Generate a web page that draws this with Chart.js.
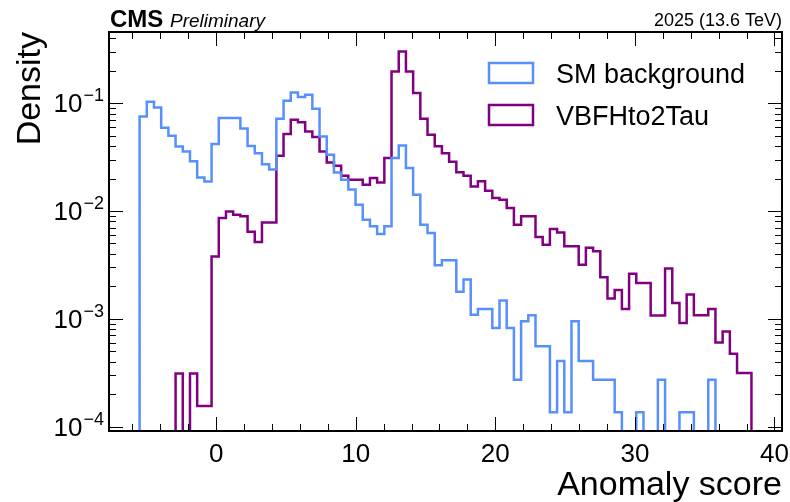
<!DOCTYPE html>
<html>
<head>
<meta charset="utf-8">
<script src="https://cdn.jsdelivr.net/npm/chart.js@4.4.1/dist/chart.umd.min.js"></script>
<style>
  html, body { margin: 0; padding: 0; background: #fff; }
  #wrap { width: 790px; height: 502px; }
</style>
</head>
<body>
<div id="wrap"><canvas id="anomalyChart" width="790" height="502"></canvas></div>
<script>
// 85 equal-width bins of the anomaly score
const binLow = -5.49;
const binWidth = 0.5158;
const nBins = 85;

const seriesNames = ["SM background", "VBFHto2Tau"];
const seriesColors = ["#5790fc", "#800080"];

// normalised bin contents (density)
const smBackground = [
  0.0754, 0.1033, 0.0914, 0.0593, 0.0499, 0.0397, 0.0357, 0.0289, 0.0205, 0.0188,
  0.0418, 0.0729, 0.0729, 0.0729, 0.0582, 0.0401, 0.0343, 0.0271, 0.0242, 0.0718,
  0.1055, 0.1259, 0.1141, 0.1199, 0.0889, 0.0492, 0.0333, 0.0228, 0.0195, 0.0158,
  0.01144, 0.0083, 0.0072, 0.00612, 0.0072, 0.0310, 0.0404, 0.0251, 0.01416, 0.00747,
  0.00625, 0.00314, 0.00350, 0.00350, 0.00178, 0.00231, 0.00109, 0.00123, 0.00123, 0.00082,
  0.00148, 0.00082, 0.000272, 0.00095, 0.00108, 0.000555, 0.000555, 0.000136, 0.000405, 0.000136,
  0.00095, 0.000405, 0.000405, 0.000272, 0.000272, 0.000272, 0.000136, 0, 0, 0.000136,
  0, 0, 0.000272, 0, 0, 0.000136, 0.000136, 0, 0, 0.000272,
  0, 0, 0, 0, 0
];
const vbfHiggs = [
  0, 0, 0, 0, 0, 0.00031, 0, 0.00031, 0.000155, 0.000155,
  0.00379, 0.00861, 0.00991, 0.00924, 0.00892, 0.00643, 0.00516, 0.00783, 0.00783, 0.0326,
  0.0518, 0.0703, 0.0664, 0.0547, 0.0486, 0.0357, 0.0282, 0.0263, 0.02126, 0.0195,
  0.0195, 0.01753, 0.02024, 0.01842, 0.0310, 0.197, 0.302, 0.197, 0.1243, 0.0718,
  0.0510, 0.0399, 0.0344, 0.0287, 0.0229, 0.02126, 0.0169, 0.0189, 0.01543, 0.0132,
  0.01273, 0.01066, 0.00747, 0.00892, 0.00892, 0.00574, 0.00487, 0.00681, 0.00633, 0.00470,
  0.00470, 0.00318, 0.00457, 0.00424, 0.00243, 0.00154, 0.00185, 0.00123, 0.00261, 0.00215,
  0.00215, 0.00107, 0.00107, 0.00292, 0.00140, 0.000914, 0.00168, 0.00108, 0.00108, 0.00123,
  0.000604, 0.000764, 0.000474, 0.000314, 0.000314
];

const xTicks = [0, 10, 20, 30, 40];
const xMinorStep = 2;
const yTickExp = [-4, -3, -2, -1];

const xRange = [-7.682, 40.542];
const yRange = [9.1e-5, 0.4575];

const FONT = "'Liberation Sans', Arial, sans-serif";

// bin edges, then step outline points; empty bins drop below the log axis
const edges = [];
for (let i = 0; i <= nBins; i++) edges.push(binLow + i * binWidth);

function stepPoints(values) {
  const floor = 1e-8;
  const pts = [{ x: edges[0], y: floor }];
  values.forEach((v, i) => pts.push({ x: edges[i], y: v > 0 ? v : floor }));
  const last = values[values.length - 1];
  pts.push({ x: edges[nBins], y: last > 0 ? last : floor });
  pts.push({ x: edges[nBins], y: floor });
  return pts;
}

function line(ctx, x1, y1, x2, y2) {
  ctx.beginPath();
  ctx.moveTo(x1, y1);
  ctx.lineTo(x2, y2);
  ctx.stroke();
}

// frame with inward ticks on all four sides
const framePlugin = {
  id: "frame",
  afterDatasetsDraw(chart) {
    const { ctx, chartArea: a, scales: { x, y } } = chart;
    ctx.save();
    ctx.strokeStyle = "#000";
    ctx.lineWidth = 1;
    const first = Math.ceil(x.min / xMinorStep) * xMinorStep;
    for (let v = first; v <= x.max; v += xMinorStep) {
      const px = Math.round(x.getPixelForValue(v)) + 0.5;
      const len = xTicks.includes(v) ? 14 : 7;
      line(ctx, px, a.bottom, px, a.bottom - len);
      line(ctx, px, a.top, px, a.top + len);
    }
    for (let e = -5; e <= 0; e++) {
      for (let m = 1; m <= 9; m++) {
        const v = m * Math.pow(10, e);
        if (v < y.min || v > y.max) continue;
        const py = Math.round(y.getPixelForValue(v)) + 0.5;
        const len = m === 1 ? 14 : 7;
        line(ctx, a.left, py, a.left + len, py);
        line(ctx, a.right, py, a.right - len, py);
      }
    }
    ctx.lineWidth = 2;
    ctx.strokeRect(a.left, a.top, a.right - a.left, a.bottom - a.top);
    ctx.restore();
  }
};

// tick labels, axis titles, header and legend
const textPlugin = {
  id: "texts",
  afterDraw(chart) {
    const { ctx, chartArea: a, scales: { x, y } } = chart;
    ctx.save();
    ctx.fillStyle = "#000";

    ctx.font = "26px " + FONT;
    ctx.textAlign = "center";
    ctx.textBaseline = "alphabetic";
    xTicks.forEach(v => ctx.fillText(String(v), x.getPixelForValue(v), 462));

    yTickExp.forEach(e => {
      const py = y.getPixelForValue(Math.pow(10, e));
      const sup = "\u2212" + Math.abs(e);
      ctx.font = "18px " + FONT;
      const supW = ctx.measureText(sup).width;
      ctx.textAlign = "right";
      ctx.fillText(sup, 104, py - 2);
      ctx.font = "26px " + FONT;
      ctx.fillText("10", 104 - supW - 1, py + 9);
    });

    ctx.font = "34px " + FONT;
    ctx.textAlign = "right";
    ctx.fillText("Anomaly score", a.right, 495);

    ctx.save();
    ctx.translate(40, a.top);
    ctx.rotate(-Math.PI / 2);
    ctx.textAlign = "right";
    ctx.fillText("Density", 0, 0);
    ctx.restore();

    ctx.textAlign = "left";
    ctx.font = "bold 24px " + FONT;
    ctx.fillText("CMS", 110, 27);
    ctx.font = "italic 19px " + FONT;
    ctx.fillText("Preliminary", 170, 27);
    ctx.textAlign = "right";
    ctx.font = "18px " + FONT;
    ctx.fillText("2025 (13.6 TeV)", a.right, 26);

    // legend
    ctx.lineWidth = 2.5;
    ctx.textAlign = "left";
    ctx.font = "27px " + FONT;
    seriesNames.forEach((name, i) => {
      const top = 63 + i * 42;
      ctx.strokeStyle = seriesColors[i];
      ctx.strokeRect(489, top, 44, 20);
      ctx.fillText(name, 556, top + 20);
    });
    ctx.restore();
  }
};

new Chart(document.getElementById("anomalyChart").getContext("2d"), {
  type: "line",
  data: {
    datasets: [smBackground, vbfHiggs].map((vals, i) => ({
      label: seriesNames[i],
      data: stepPoints(vals),
      borderColor: seriesColors[i],
      borderWidth: 2.5,
      stepped: "before",
      pointRadius: 0,
      fill: false,
      borderJoinStyle: "miter"
    }))
  },
  options: {
    responsive: false,
    animation: false,
    devicePixelRatio: 1,
    layout: { padding: { left: 109, top: 32, right: 8, bottom: 71 } },
    scales: {
      x: { type: "linear", min: xRange[0], max: xRange[1], display: false },
      y: { type: "logarithmic", min: yRange[0], max: yRange[1], display: false }
    },
    plugins: {
      legend: { display: false },
      tooltip: { enabled: false }
    }
  },
  plugins: [framePlugin, textPlugin]
});
</script>
</body>
</html>
